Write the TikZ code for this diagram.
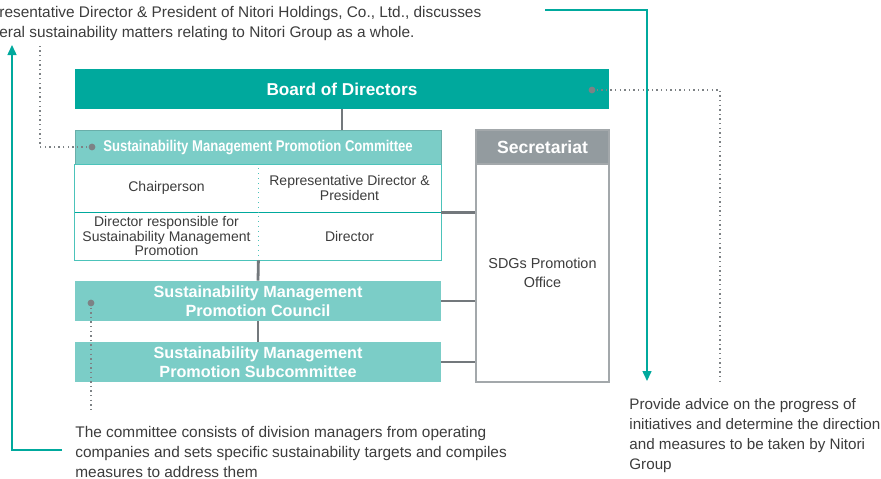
\documentclass[tikz,border=0pt]{standalone}
\usepackage{fontspec}
\setmainfont{Liberation Sans}
\newfontfamily\condfont[FakeStretch=0.84]{Liberation Sans}
\usetikzlibrary{arrows.meta,positioning,calc}
\definecolor{tealdark}{HTML}{00A99D}
\definecolor{teallight}{HTML}{7BCDC7}
\definecolor{grayhead}{HTML}{939B9F}
\definecolor{grayline}{HTML}{73787C}
\definecolor{grayframe}{HTML}{A3A8AB}
\definecolor{graydot}{HTML}{7D8285}
\definecolor{textgray}{HTML}{3C3C3C}

\begin{document}
\begin{tikzpicture}[x=0.5pt,y=-0.5pt,
  headbox/.style={inner sep=0pt,text=white,align=center,
    font=\bfseries\fontsize{8.1}{9.4}\selectfont},
  cell/.style={inner sep=0pt,minimum width=91.5pt,minimum height=24pt,
    text=textgray,align=center,font=\fontsize{7}{7.4}\selectfont},
  note/.style={inner sep=0pt,text=textgray,align=left,
    font=\fontsize{7.7}{10}\selectfont},
  conn/.style={grayline,line width=1.4pt},
  guide/.style={graydot,line width=0.7pt,dash pattern=on 0.7pt off 1.6pt},
  flow/.style={tealdark,line width=0.75pt,-{Triangle[width=4.5pt,length=5pt]}}]
  \useasboundingbox (0,0) rectangle (881,478);
  % Notes
  \node[note,anchor=north west] (topnote) at (-1,6)
    {resentative Director \& President of Nitori Holdings, Co., Ltd., discusses\\
     eral sustainability matters relating to Nitori Group as a whole.};
  \node[note,anchor=north west] (leftnote) at (75,426)
    {The committee consists of division managers from operating\\
     companies and sets specific sustainability targets and compiles\\
     measures to address them};
  \node[note,anchor=north west,font=\fontsize{7.6}{10}\selectfont] (rightnote) at (629,398)
    {Provide advice on the progress of\\
     initiatives and determine the direction\\
     and measures to be taken by Nitori\\
     Group};
  % Board
  \node[headbox,fill=tealdark,minimum width=267pt,minimum height=20pt,
    font=\bfseries\fontsize{8.6}{9.4}\selectfont] (board) at (342,89) {Board of Directors};
  % Committee
  \node[headbox,fill=teallight,draw=teallight!85!black,line width=0.4pt,
    minimum width=183pt,minimum height=17pt,font=\condfont\bfseries\fontsize{7.8}{9}\selectfont]
    (commhead) at (258,147) {Sustainability Management Promotion Committee};
  \node[cell] (chair) at (166.5,188) {Chairperson};
  \node[cell] (pres) at (349.5,188) {Representative Director \&\\President};
  \node[cell] (dirresp) at (166.5,236) {Director responsible for\\Sustainability Management\\Promotion};
  \node[cell] (dir) at (349.5,236) {Director};
  \draw[tealdark!70,line width=0.6pt] (commhead.south west) rectangle (dir.south east);
  \draw[tealdark,line width=0.6pt] (chair.south west) -- (pres.south east);
  \draw[tealdark!70,line width=0.4pt,dotted] (chair.north east) -- (dirresp.south east);
  % Council and subcommittee
  \node[headbox,fill=teallight,minimum width=183pt,minimum height=20pt] (council) at (258,301)
    {Sustainability Management\\Promotion Council};
  \node[headbox,fill=teallight,minimum width=183pt,minimum height=20pt] (subcom) at (258,362)
    {Sustainability Management\\Promotion Subcommittee};
  % Secretariat
  \node[headbox,fill=grayhead,draw=grayframe,line width=0.6pt,minimum width=66.5pt,minimum height=17pt,
    font=\bfseries\fontsize{8.8}{9}\selectfont] (sechead) at (542.5,147) {Secretariat};
  \node[draw=grayframe,line width=0.6pt,fill=white,inner sep=0pt,minimum width=66.5pt,minimum height=109pt,
    text=textgray,align=center,font=\fontsize{7.2}{9.4}\selectfont] (secbody) at (542.5,273)
    {SDGs Promotion\\Office};
  % Connectors
  \draw[conn] (board.south) -- (board.south |- commhead.north);
  \draw[conn] (dirresp.south east) -- (council.north);
  \draw[conn] (council.south) -- (subcom.north);
  \draw[conn] (pres.south east) -- (pres.south east -| secbody.west);
  \draw[conn] (council.east) -- (council.east -| secbody.west);
  \draw[conn] (subcom.east) -- (subcom.east -| secbody.west);
  % Dotted guides
  \coordinate (boarddot) at (592,90);
  \coordinate (commdot) at (92,147);
  \coordinate (councildot) at (91,303);
  \fill[graydot] (boarddot) circle (1.7pt) (commdot) circle (1.7pt) (councildot) circle (1.7pt);
  \draw[guide] (boarddot) -- (720,90) -- (720,383);
  \draw[guide] (commdot) -- (40,147) -- (40,45);
  \draw[guide] (councildot) -- (91,413);
  % Flows
  \coordinate (topstart) at (545,10);
  \coordinate (righttip) at (647,381);
  \coordinate (leftstart) at (62,450);
  \coordinate (lefttip) at (12,45);
  \draw[flow] (topstart) -| (righttip);
  \draw[flow] (leftstart) -| (lefttip);
\end{tikzpicture}
\end{document}
